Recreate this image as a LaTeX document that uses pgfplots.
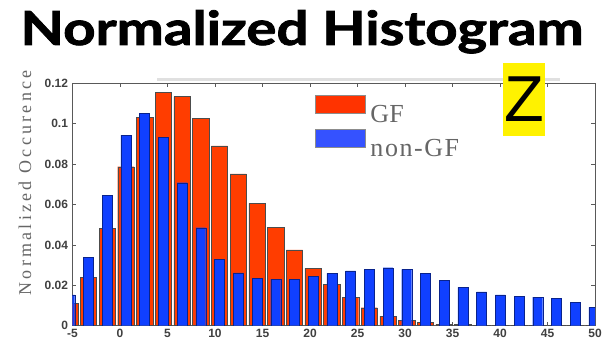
\documentclass[border=0pt]{standalone}
\usepackage{fontspec}
\setmainfont{Liberation Sans}
\newfontfamily\titlefont[FakeBold=1.6]{Lato}
\newfontfamily\serifx{Liberation Serif}
\newfontfamily\serifsp[LetterSpace=18]{Liberation Serif}
\usepackage{pgfplots}
\pgfplotsset{compat=1.18}
\definecolor{gfred}{HTML}{FF3D00}
\definecolor{ngblue}{HTML}{1040FF}
\definecolor{legred}{HTML}{FF3300}
\definecolor{legblue}{HTML}{3552FF}
\begin{document}
\begin{tikzpicture}[x=1pt,y=1pt]
\useasboundingbox (0,0) rectangle (602,347);
\draw[black!12, line width=3pt] (157,267) -- (560,267);
\begin{axis}[
  at={(72.5pt,21.3pt)}, anchor=south west,
  scale only axis, width=522.5pt, height=242.4pt,
  xmin=-5, xmax=50, ymin=0, ymax=0.12,
  xtick={-5,0,5,10,15,20,25,30,35,40,45,50},
  xticklabels={-5,0,5,10,15,20,25,30,35,40,45,50},
  ytick={0,0.02,0.04,0.06,0.08,0.1,0.12},
  yticklabels={0,0.02,0.04,0.06,0.08,0.1,0.12},
  tick align=inside, major tick length=4pt,
  axis line style={black!65, line width=0.6pt},
  tick style={black!65, line width=0.5pt},
  ticklabel style={font=\fontsize{12}{12}\selectfont\bfseries, text=black!75},
  yticklabel style={xshift=-1pt},
  ylabel={Normalized Occurence},
  ylabel style={at={(axis description cs:-0.091,0.589)}, anchor=center,
    font=\serifsp\fontsize{18}{18}\selectfont, text=black!60},
  legend style={at={(axis description cs:0.4641,0.9517)}, anchor=north west,
    draw=none, fill=none, inner sep=0pt, outer sep=0pt, row sep=7pt, column sep=5pt,
    font=\serifx\fontsize{26}{26}\selectfont, text=black!60,
    nodes={inner sep=0pt, outer sep=0pt, text height=18pt, text depth=0pt}},
  legend cell align=left,
]
\addplot[ybar, bar width=1.72, bar shift=0pt, fill=gfred, draw=black!70, line width=0.4pt, forget plot]
coordinates {
(-5.29,0.0111) (-3.32,0.0240) (-1.35,0.0482) (0.62,0.0787) (2.59,0.1032)
(4.56,0.1155) (6.53,0.1134) (8.50,0.1027) (10.47,0.0890) (12.45,0.0751)
(14.42,0.0606) (16.39,0.0487) (18.36,0.0375) (20.33,0.0284) (22.30,0.0205)
(24.27,0.0141) (26.24,0.0089) (28.21,0.0048) (30.18,0.0028) (32.15,0.0015)
(34.12,0.0008) (36.09,0.0005) (38.06,0.0003) (40.03,0.0002) (42.00,0.0002)
(43.97,0.0001) (45.95,0.0001) (47.92,0.0001) (49.89,0.0001)
};
\addplot[ybar, bar width=1.05, bar shift=0pt, fill=ngblue, draw=ngblue!55!black, line width=0.3pt, forget plot]
coordinates {
(-5.29,0.0152) (-3.32,0.0339) (-1.35,0.0647) (0.62,0.0944) (2.59,0.1051)
(4.56,0.0933) (6.53,0.0708) (8.50,0.0485) (10.47,0.0330) (12.45,0.0262)
(14.42,0.0235) (16.39,0.0230) (18.36,0.0231) (20.33,0.0243) (22.30,0.0259)
(24.27,0.0271) (26.24,0.0279) (28.21,0.0287) (30.18,0.0279) (32.15,0.0259)
(34.12,0.0226) (36.09,0.0190) (38.06,0.0168) (40.03,0.0152) (42.00,0.0144)
(43.97,0.0142) (45.95,0.0134) (47.92,0.0117) (49.89,0.0091)
};
\addlegendimage{legend image code/.code={\draw[black!45, fill=legred, line width=0.5pt] (0pt,0pt) rectangle (50pt,18pt);}}
\addlegendentry{GF}
\addlegendimage{legend image code/.code={\draw[black!45, fill=legblue, line width=0.5pt] (0pt,0pt) rectangle (50pt,18pt);}}
\addlegendentry{\addfontfeature{LetterSpace=6}non-GF}
\end{axis}
\node[anchor=base, xscale=1.2, transform shape, font=\titlefont\bfseries\fontsize{47}{47}\selectfont] at (302,302) {Normalized Histogram};
\node[fill=yellow, inner xsep=1pt, inner ysep=0pt, minimum height=73pt, font=\fontsize{65}{65}\selectfont, anchor=center] at (524,247.5) {Z};
\end{tikzpicture}
\end{document}
